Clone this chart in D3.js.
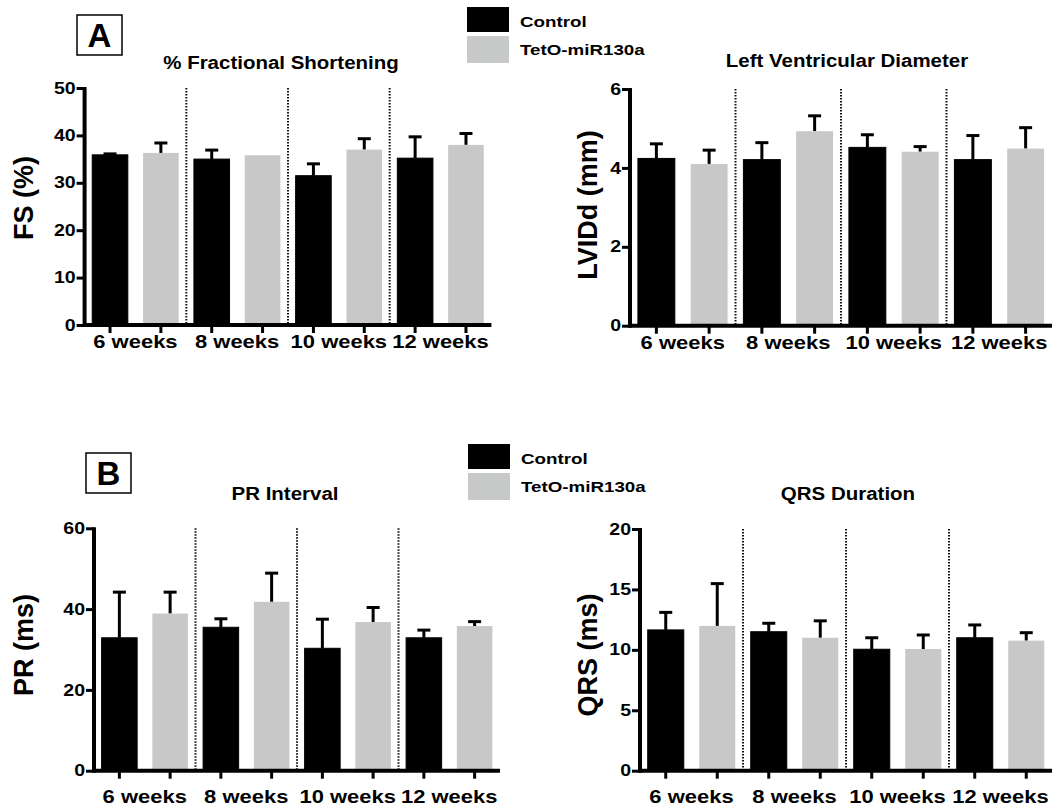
<!DOCTYPE html>
<html>
<head>
<meta charset="utf-8">
<script src="https://cdn.jsdelivr.net/npm/d3@7"></script>
<style>
  body { margin: 0; background: #fff; }
  svg text { font-family: "Liberation Sans", Arial, sans-serif; font-weight: bold; fill: #000; }
</style>
</head>
<body>
<script>
// ! Data (mean and upper error)
const weeks = ["6 weeks", "8 weeks", "10 weeks", "12 weeks"];
const groups = ["Control", "TetO-miR130a"];

const fsControl = [35.9, 35.0, 31.5, 35.2];
const fsControlErr = [0.2, 1.9, 2.5, 4.5];
const fsTetO = [36.3, 35.8, 37.0, 38.0];
const fsTetOErr = [2.1, 0, 2.3, 2.4];
const fsTicks = [0, 10, 20, 30, 40, 50];

const lvControl = [4.24, 4.21, 4.52, 4.21];
const lvControlErr = [0.37, 0.43, 0.32, 0.61];
const lvTetO = [4.10, 4.93, 4.41, 4.49];
const lvTetOErr = [0.35, 0.39, 0.13, 0.53];
const lvTicks = [0, 2, 4, 6];

const prControl = [32.9, 35.5, 30.3, 32.9];
const prControlErr = [11.3, 2.1, 7.2, 1.9];
const prTetO = [38.9, 41.8, 36.8, 35.8];
const prTetOErr = [5.3, 7.1, 3.6, 1.1];
const prTicks = [0, 20, 40, 60];

const qrsControl = [11.65, 11.5, 10.05, 11.0];
const qrsControlErr = [1.45, 0.7, 0.95, 1.06];
const qrsTetO = [11.98, 11.0, 10.07, 10.76];
const qrsTetOErr = [3.5, 1.4, 1.16, 0.66];
const qrsTicks = [0, 5, 10, 15, 20];

const colors = { "Control": "#000000", "TetO-miR130a": "#c8c8c8" };
const legendColors = { "Control": "#000000", "TetO-miR130a": "#c6c9c8" };

// ! Layout
const width = 1063, height = 812;
const svg = d3.select("body").append("svg").attr("width", width).attr("height", height);

// stretch text horizontally like the (non-uniformly scaled) source image
function stretch(sel, k) {
  sel.each(function () {
    const w = this.getComputedTextLength();
    d3.select(this).attr("textLength", w * k).attr("lengthAdjust", "spacingAndGlyphs");
  });
}

const panels = [
  { x0: 84.6, x1: 491.4, yTop: 88, yBot: 325, ticks: fsTicks, vals: [fsControl, fsTetO], errs: [fsControlErr, fsTetOErr],
    title: "% Fractional Shortening", titleX: 281, titleY: 69, ylab: "FS (%)", ylabX: 33, ylabY: 198, labY: 348 },
  { x0: 630, x1: 1052, yTop: 89, yBot: 325.7, ticks: lvTicks, vals: [lvControl, lvTetO], errs: [lvControlErr, lvTetOErr],
    title: "Left Ventricular Diameter", titleX: 847, titleY: 67, ylab: "LVIDd (mm)", ylabX: 597, ylabY: 205, labY: 349 },
  { x0: 94, x1: 500, yTop: 528.3, yBot: 770.7, ticks: prTicks, vals: [prControl, prTetO], errs: [prControlErr, prTetOErr],
    title: "PR Interval", titleX: 285, titleY: 500, ylab: "PR (ms)", ylabX: 33, ylabY: 645, labY: 803 },
  { x0: 640, x1: 1052, yTop: 529, yBot: 770.7, ticks: qrsTicks, vals: [qrsControl, qrsTetO], errs: [qrsControlErr, qrsTetOErr],
    title: "QRS Duration", titleX: 848, titleY: 500, ylab: "QRS (ms)", ylabX: 597, ylabY: 655, labY: 803 },
];

panels.forEach((p) => {
  const g = svg.append("g");
  const slots = [];
  weeks.forEach((w) => groups.forEach((s) => slots.push(w + "|" + s)));

  const xSlot = d3.scaleBand().domain(slots).range([p.x0, p.x1]).paddingInner(0.3).paddingOuter(0.15);
  const xWeek = d3.scaleBand().domain(weeks).range([p.x0, p.x1]);
  const y = d3.scaleLinear().domain([0, d3.max(p.ticks)]).range([p.yBot, p.yTop]);

  const rows = [];
  weeks.forEach((w, i) => groups.forEach((s, j) => rows.push({ week: w, group: s, v: p.vals[j][i], e: p.errs[j][i] })));

  // dotted separators between weeks
  g.selectAll(".sep").data(weeks.slice(1)).enter().append("line")
    .attr("x1", (d) => xWeek(d)).attr("x2", (d) => xWeek(d))
    .attr("y1", y(d3.max(p.ticks))).attr("y2", y(0))
    .style("stroke", "#111").style("stroke-width", 2).style("stroke-dasharray", "1.5,1.5");

  // error bars (upper only)
  const cx = (d) => xSlot(d.week + "|" + d.group) + xSlot.bandwidth() / 2;
  const eb = g.selectAll(".err").data(rows.filter((d) => d.e > 0)).enter().append("g");
  eb.append("line")
    .attr("x1", cx).attr("x2", cx)
    .attr("y1", (d) => y(d.v)).attr("y2", (d) => y(d.v + d.e))
    .style("stroke", "#000").style("stroke-width", 3);
  eb.append("line")
    .attr("x1", (d) => cx(d) - 6.5).attr("x2", (d) => cx(d) + 6.5)
    .attr("y1", (d) => y(d.v + d.e)).attr("y2", (d) => y(d.v + d.e))
    .style("stroke", "#000").style("stroke-width", 3);

  // bars
  g.selectAll(".bar").data(rows).enter().append("rect")
    .attr("x", (d) => xSlot(d.week + "|" + d.group))
    .attr("y", (d) => y(d.v))
    .attr("width", xSlot.bandwidth())
    .attr("height", (d) => y(0) - y(d.v))
    .style("fill", (d) => colors[d.group])
    .style("stroke", (d) => (d.group === "Control" ? "#000" : "none"))
    .style("stroke-width", 1);

  // y axis
  const yAxisG = g.append("g").attr("transform", `translate(${p.x0},0)`)
    .call(d3.axisLeft(y).tickValues(p.ticks).tickFormat(d3.format("d")).tickSize(8).tickSizeOuter(0).tickPadding(1));
  yAxisG.select(".domain").style("stroke", "#000").style("stroke-width", 4)
    .attr("d", `M0,${y(d3.max(p.ticks)) - 1}V${y(0) + 2}`);
  yAxisG.selectAll(".tick line").style("stroke", "#000").style("stroke-width", 3);
  yAxisG.selectAll(".tick text").style("font-size", "16px").call(stretch, 1.22);

  // x axis
  const xAxisG = g.append("g").attr("transform", `translate(0,${p.yBot})`)
    .call(d3.axisBottom(xSlot).tickSize(8).tickSizeOuter(0).tickFormat(""));
  xAxisG.select(".domain").style("stroke", "#000").style("stroke-width", 4).attr("d", `M${p.x0},0H${p.x1}`);
  xAxisG.selectAll(".tick line").style("stroke", "#000").style("stroke-width", 3);

  // week labels
  g.selectAll(".wk").data(weeks).enter().append("text")
    .attr("x", (d) => xWeek(d) + xWeek.bandwidth() / 2)
    .attr("y", p.labY)
    .attr("text-anchor", "middle")
    .style("font-size", "18px")
    .text((d) => d)
    .call(stretch, 1.22);

  // title
  g.append("text").attr("x", p.titleX).attr("y", p.titleY).attr("text-anchor", "middle")
    .style("font-size", "17.5px").text(p.title).call(stretch, 1.17);

  // y label
  g.append("text").attr("transform", `translate(${p.ylabX},${p.ylabY}) rotate(-90)`)
    .attr("text-anchor", "middle").style("font-size", "27px").text(p.ylab);
});

// ! Panel letters
[["A", 77, 15], ["B", 86, 453]].forEach(([t, x, yy]) => {
  svg.append("rect").attr("x", x).attr("y", yy).attr("width", 45).attr("height", 40)
    .style("fill", "#fff").style("stroke", "#000").style("stroke-width", 1.5);
  svg.append("text").attr("x", x + 22.5).attr("y", yy + 32).attr("text-anchor", "middle")
    .style("font-size", "33px").text(t);
});

// ! Legends
[[467, 7], [468, 444]].forEach(([lx, ly]) => {
  const lg = svg.append("g").attr("transform", `translate(${lx},${ly})`);
  lg.selectAll("rect").data(groups).enter().append("rect")
    .attr("x", 0).attr("y", (d, i) => i * 29)
    .attr("width", 42).attr("height", (d, i) => (i === 0 ? 25 : 27))
    .style("fill", (d) => legendColors[d]);
  lg.selectAll("text").data(groups).enter().append("text")
    .attr("x", 53).attr("y", (d, i) => 20 + i * 28)
    .style("font-size", "15px").text((d) => d)
    .call(stretch, 1.25);
});
</script>
</body>
</html>
